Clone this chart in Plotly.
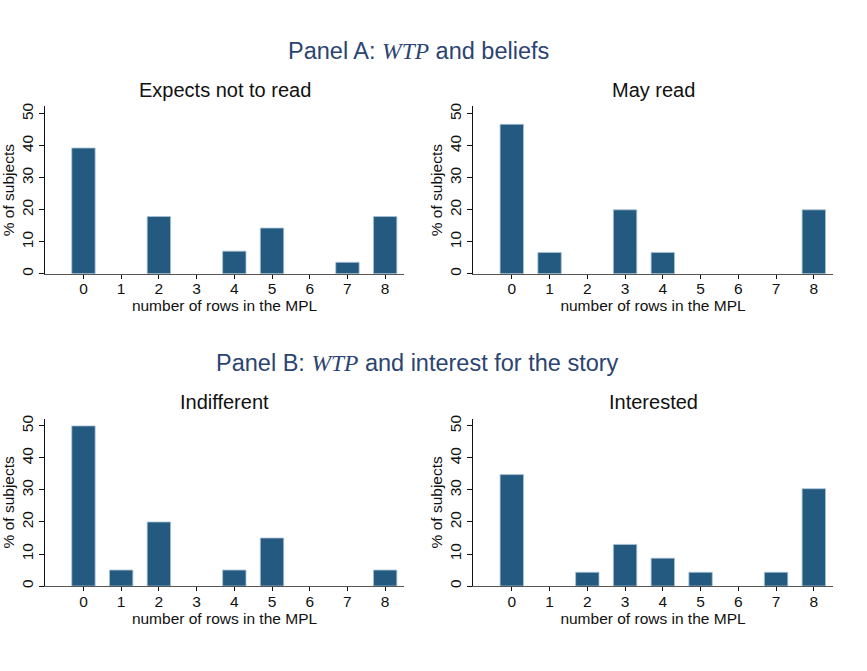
import plotly.graph_objects as go

# Number of rows switched in the multiple price list (MPL)
rows = [0, 1, 2, 3, 4, 5, 6, 7, 8]
tick_labels = ["0", "1", "2", "3", "4", "5", "6", "7", "8"]

# Share of subjects (%) for each group
expects_not_to_read = [39.3, 0, 17.9, 0, 7.1, 14.3, 0, 3.6, 17.9]
may_read = [46.7, 6.7, 0, 20.0, 6.7, 0, 0, 0, 20.0]
indifferent = [50.0, 5.0, 20.0, 0, 5.0, 15.0, 0, 0, 5.0]
interested = [34.8, 0, 4.3, 13.0, 8.7, 4.3, 0, 4.3, 30.4]

panel_titles = ["Expects not to read", "May read", "Indifferent", "Interested"]
series = [expects_not_to_read, may_read, indifferent, interested]

W, H = 867, 671
BAR = "#245a80"
EDGE = "#a9c3d6"
TXT = "#111111"
TITLE_BLUE = "#2c4471"
FONT = "Liberation Sans, Arial, Helvetica, sans-serif"
AX = 15.5   # tick / axis-title size
SUB = 20    # sub-panel title size
TOP = 23.5  # panel heading size

# plot-area boxes in pixels: (left, right, top, bottom)
boxes = [
    (45, 404, 103.3, 272.3),
    (473.3, 832.7, 103.3, 272.3),
    (45, 404, 418.3, 587.3),
    (473.3, 832.7, 418.3, 587.3),
]

fig = go.Figure()
layout = dict(
    width=W, height=H,
    margin=dict(l=0, r=0, t=0, b=0),
    paper_bgcolor="white", plot_bgcolor="white",
    showlegend=False,
    font=dict(family=FONT, color=TXT, size=AX),
)

annotations = []
for i, (vals, name, (l, r, t, b)) in enumerate(zip(series, panel_titles, boxes), start=1):
    xa = "x" if i == 1 else f"x{i}"
    ya = "y" if i == 1 else f"y{i}"
    fig.add_trace(go.Bar(
        x=rows, y=vals, xaxis=xa, yaxis=ya,
        marker=dict(color=BAR,
                    line=dict(color=EDGE, width=[0.8 if v > 0 else 0 for v in vals])),
        width=0.62,
        hoverinfo="x+y",
    ))
    layout[f"xaxis{'' if i == 1 else i}"] = dict(
        domain=[l / W, r / W], anchor=ya,
        range=[-1.02, 8.5],
        tickmode="array", tickvals=rows, ticktext=tick_labels,
        showline=True, linecolor="#555555", linewidth=1,
        ticks="outside", ticklen=4, tickcolor="#111111", tickwidth=1,
        ticklabelstandoff=-3,
        showgrid=False, zeroline=False,
        tickfont=dict(size=AX, family=FONT, color=TXT),
        title=dict(text="number of rows in the MPL", standoff=0,
                   font=dict(size=AX, family=FONT, color=TXT)),
        fixedrange=True,
    )
    layout[f"yaxis{'' if i == 1 else i}"] = dict(
        domain=[1 - b / H, 1 - t / H], anchor=xa,
        range=[0, 52.3],
        tickmode="array", tickvals=[0, 10, 20, 30, 40, 50],
        tickangle=-90,
        showline=True, linecolor="#111111", linewidth=1,
        ticks="outside", ticklen=5, tickcolor="#111111", tickwidth=1,
        showgrid=False, zeroline=False,
        tickfont=dict(size=AX, family=FONT, color=TXT),
        title=dict(text="% of subjects", standoff=0,
                   font=dict(size=AX, family=FONT, color=TXT)),
        fixedrange=True,
    )
    annotations.append(dict(
        text=name, xref="paper", yref="paper",
        x=(l + r) / 2 / W, y=1 - (t - 17) / H,
        xanchor="center", yanchor="middle", showarrow=False,
        font=dict(size=SUB, family=FONT, color=TXT),
    ))

wtp = '<i><span style="font-family:Liberation Serif, Times New Roman, serif">WTP</span></i>'
annotations.append(dict(
    text=f"Panel A: {wtp} and beliefs", xref="paper", yref="paper",
    x=418 / W, y=1 - 47 / H, xanchor="center", yanchor="middle", showarrow=False,
    font=dict(size=TOP, family=FONT, color=TITLE_BLUE),
))
annotations.append(dict(
    text=f"Panel B: {wtp} and interest for the story", xref="paper", yref="paper",
    x=417 / W, y=1 - 362 / H, xanchor="center", yanchor="middle", showarrow=False,
    font=dict(size=TOP, family=FONT, color=TITLE_BLUE),
))
layout["annotations"] = annotations

fig.update_layout(**layout)
fig.write_html("out.html", config={"displayModeBar": False})
